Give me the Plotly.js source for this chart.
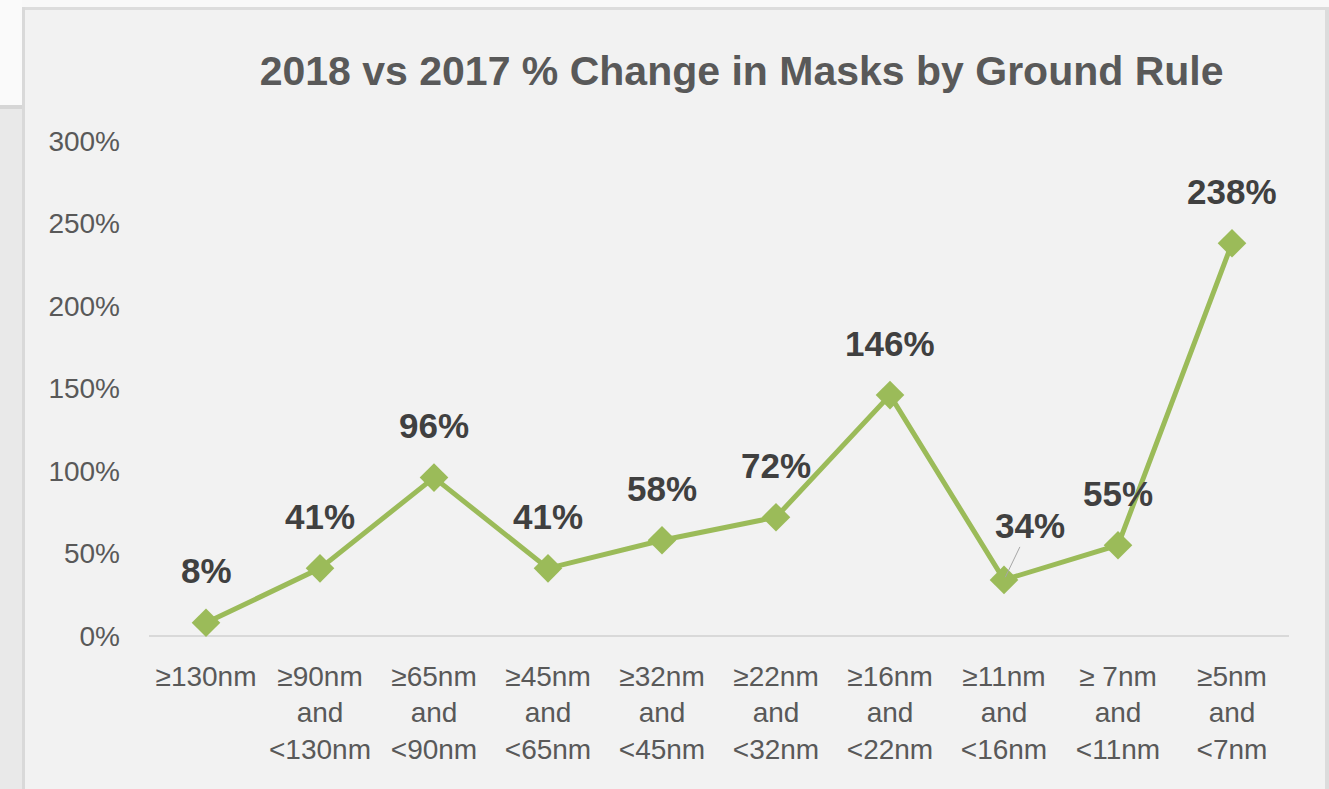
<!DOCTYPE html>
<html>
<head>
<meta charset="utf-8">
<script src="https://cdn.plot.ly/plotly-3.0.1.min.js"></script>
<style>
  html, body { margin:0; padding:0; width:1329px; height:789px; overflow:hidden; background:#f2f2f2; }
  #topstrip { position:absolute; left:0; top:0; width:1329px; height:7px; background:#f8f8f8; }
  #topborder { position:absolute; left:22px; top:7px; width:1306px; height:3px; background:#dcdcdc; }
  #leftwhite { position:absolute; left:0; top:0; width:22px; height:105px; background:#fafafa; }
  #leftline { position:absolute; left:0; top:105px; width:22px; height:4px; background:#d6d6d6; }
  #leftgray { position:absolute; left:0; top:109px; width:22px; height:680px; background:#e9e9e9; }
  #leftborder { position:absolute; left:22px; top:7px; width:3px; height:782px; background:#d9d9d9; }
  #rightborder { position:absolute; left:1325px; top:7px; width:4px; height:782px; background:#dcdcdc; }
  #chart { position:absolute; left:0; top:0; width:1329px; height:789px; }
</style>
</head>
<body>
<div id="topstrip"></div>
<div id="leftwhite"></div>
<div id="leftline"></div>
<div id="leftgray"></div>
<div id="topborder"></div>
<div id="leftborder"></div>
<div id="rightborder"></div>
<div id="chart"></div>
<script>
const categories = [
  "≥130nm",
  "≥90nm<br>and<br><130nm",
  "≥65nm<br>and<br><90nm",
  "≥45nm<br>and<br><65nm",
  "≥32nm<br>and<br><45nm",
  "≥22nm<br>and<br><32nm",
  "≥16nm<br>and<br><22nm",
  "≥11nm<br>and<br><16nm",
  "≥ 7nm<br>and<br><11nm",
  "≥5nm<br>and<br><7nm"
];
const changePct = [8, 41, 96, 41, 58, 72, 146, 34, 55, 238];
const yTickVals = [0, 50, 100, 150, 200, 250, 300];
const yTickText = ["0%", "50%", "100%", "150%", "200%", "250%", "300%"];

const fontFam = '"Liberation Sans Narrow", "Arial Narrow", "Liberation Sans", Arial, sans-serif';

const trace = {
  type: 'scatter',
  mode: 'lines+markers',
  x: categories,
  y: changePct,
  line: { color: '#9bbb59', width: 5 },
  marker: { symbol: 'diamond', size: 22, color: '#9bbb59' },
  hoverinfo: 'skip',
  cliponaxis: false
};

const annotations = categories.map((c, i) => {
  const special = (i === 7);
  return {
    x: c, y: changePct[i], xref: 'x', yref: 'y',
    text: '<b>' + changePct[i] + '%</b>',
    showarrow: special,
    arrowhead: 0, arrowwidth: 1, arrowcolor: '#a6a6a6',
    ax: special ? 26 : 0, ay: special ? -54 : 0,
    standoff: 3,
    yshift: special ? 0 : 52,
    font: { family: fontFam, size: 35, color: '#404040' }
  };
});

const layout = {
  width: 1329, height: 789,
  paper_bgcolor: 'rgba(0,0,0,0)',
  plot_bgcolor: 'rgba(0,0,0,0)',
  margin: { l: 149, r: 40, t: 141, b: 153 },
  showlegend: false,
  title: {
    text: '<b>2018 vs 2017 % Change in Masks by Ground Rule</b>',
    font: { family: fontFam, size: 41, color: '#595959' },
    x: 0.558, xanchor: 'center', y: 0.91, yanchor: 'middle'
  },
  xaxis: {
    type: 'category',
    range: [-0.5, 9.5],
    tickfont: { family: fontFam, size: 28, color: '#595959' },
    showgrid: false, zeroline: false, showline: false,
    ticks: '', ticklabelstandoff: 21, fixedrange: true
  },
  yaxis: {
    range: [0, 300],
    tickvals: yTickVals, ticktext: yTickText,
    tickfont: { family: fontFam, size: 28, color: '#595959' },
    showgrid: false, zeroline: true, zerolinecolor: '#d9d9d9', zerolinewidth: 2,
    showline: false, ticks: '', ticklabelstandoff: 28, fixedrange: true
  },
  annotations: annotations
};

Plotly.newPlot('chart', [trace], layout, { displayModeBar: false, staticPlot: true });
</script>
</body>
</html>
